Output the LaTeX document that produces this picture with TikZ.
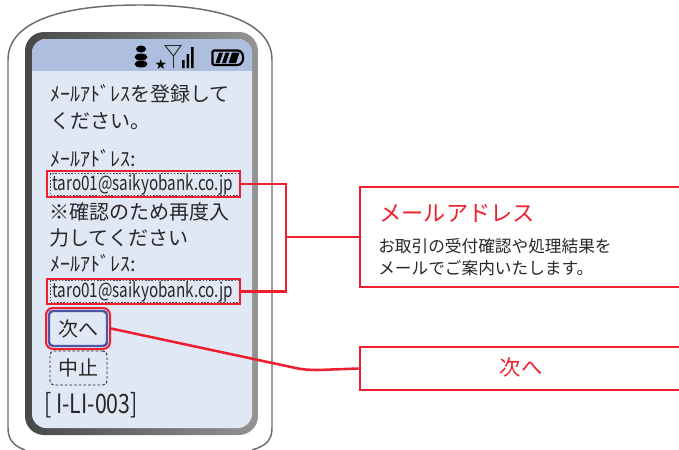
\documentclass[tikz,border=0pt]{standalone}
\usepackage{fontspec}
\setmainfont{Noto Sans CJK JP}
\newfontfamily\lat[FakeStretch=0.765]{Noto Sans CJK JP}
\newfontfamily\latb[FakeStretch=0.8]{Noto Sans CJK JP}
\usetikzlibrary{calc}
\definecolor{ink}{HTML}{2A2628}
\definecolor{redc}{HTML}{EE2030}
\definecolor{bodyc}{HTML}{E0E7F5}
\definecolor{headc}{HTML}{AEBEDF}
\definecolor{bluec}{HTML}{4F55A5}
\tikzset{
  x=0.75pt,y=-0.75pt,
  txt/.style={inner sep=0pt,anchor=west,text=ink,font=\fontsize{15}{18}\selectfont},
  field/.style={draw=ink!85,line width=0.7pt,dash pattern=on 1.2pt off 1.2pt,inner sep=0pt,text=ink},
  redframe/.style={draw=redc,line width=1.9pt,inner sep=0pt},
  redline/.style={draw=redc,line width=1.9pt},
  callout/.style={draw=redc,line width=2pt,fill=white,inner sep=0pt},
  rtxt/.style={inner sep=0pt,text=redc},
  icon/.style={fill=black,draw=none}
}
\begin{document}
\begin{tikzpicture}
\useasboundingbox (0,0) rectangle (679,450);
% phone body
\draw[draw=gray!85!black,line width=1.1pt,fill=white]
  (25,450) .. controls (14,446) and (8,440) .. (8,428) -- (8,60)
  .. controls (8,22) and (60,5) .. (140,5)
  .. controls (220,5) and (272,22) .. (272,60) -- (272,428)
  .. controls (272,440) and (266,446) .. (252,450);
% screen
\path[left color=black!72,right color=black!42,rounded corners=19*0.75pt]
  (25,32) rectangle (258,435);
\path[fill=bodyc,rounded corners=14*0.75pt] (32,39) rectangle (252,428);
\begin{scope}
  \clip[rounded corners=14*0.75pt] (32,39) rectangle (252,428);
  \fill[headc] (32,39) rectangle (252,71);
\end{scope}
% status icons
\fill[icon] (141,49) ellipse (5 and 3.5);
\fill[icon] (141,57) ellipse (6.5 and 3.5);
\fill[icon] (141,64) ellipse (6.5 and 3.5);
\node[rtxt,text=black,font=\fontsize{10.5}{11}\selectfont] (star) at (161,64) {\fontspec{DejaVu Sans}★};
\draw[ink,line width=0.7pt] (165,45.5) -- (181,45.5) -- (173.5,56) -- cycle (173.5,56) -- (173.5,68);
\fill[icon] (182,60) rectangle (184.5,68) (186.5,54) rectangle (189,68) (191,47) rectangle (193.5,68);
\draw[black,line width=1.6pt,rounded corners=1pt] (212.5,50.5) -- (239,50.5) .. controls (242,52) and (243,55) .. (243,58) .. controls (243,61) and (242,63) .. (239,65) -- (212.5,65) -- cycle;
\fill[icon] (215.5,63) -- (219,52.5) -- (223,52.5) -- (219.5,63) -- cycle
  (222,63) -- (225.5,52.5) -- (229.5,52.5) -- (226,63) -- cycle
  (228.5,63) -- (232,52.5) -- (239.5,52.5) -- (236,63) -- cycle;
% screen texts
\node[txt] (t1) at (50,94) {ﾒｰﾙｱﾄﾞﾚｽを登録して};
\node[txt] (t2) at (50,121) {ください。};
\node[txt] (t3) at (50,158) {ﾒｰﾙｱﾄﾞﾚｽ:};
\node[field,minimum width=189*0.75pt,minimum height=22*0.75pt] (field1) at (145,184.5) {};
\node[txt,font=\lat\fontsize{15}{18}\selectfont] (v1) at (52,185) {taro01@saikyobank.co.jp};
\node[redframe,minimum width=193*0.75pt,minimum height=26*0.75pt] (email1) at (143.5,184) {};
\node[txt] (t4) at (49,212) {※確認のため再度入};
\node[txt] (t5) at (49,238) {力してください};
\node[txt] (t6) at (50,263) {ﾒｰﾙｱﾄﾞﾚｽ:};
\node[field,minimum width=189*0.75pt,minimum height=22*0.75pt] (field2) at (145,291.5) {};
\node[txt,font=\lat\fontsize{15}{18}\selectfont] (v2) at (52,292) {taro01@saikyobank.co.jp};
\node[redframe,minimum width=193*0.75pt,minimum height=25*0.75pt] (email2) at (143.5,291.5) {};
% buttons
\node[draw=redc,line width=1.5pt,rounded corners=7*0.75pt,inner sep=0pt,minimum width=64*0.75pt,minimum height=41*0.75pt] (next) at (78,328.5) {};
\node[draw=bluec,line width=1.8pt,rounded corners=4*0.75pt,inner sep=0pt,minimum width=58*0.75pt,minimum height=35*0.75pt,text=ink,font=\fontsize{15}{18}\selectfont] (nextin) at (78,328.5) {次へ};
\node[draw=ink,line width=0.7pt,dash pattern=on 2pt off 1.5pt,rounded corners=4*0.75pt,inner sep=0pt,minimum width=57*0.75pt,minimum height=34*0.75pt,text=ink,font=\fontsize{15}{18}\selectfont] (stop) at (78.5,368) {中止};
\node[txt,font=\latb\fontsize{20}{22}\selectfont] (code) at (44,405) {[ I-LI-003]};
% callouts
\node[callout,minimum width=324*0.75pt,minimum height=100*0.75pt] (callA) at (522,237) {};
\node[callout,minimum width=324*0.75pt,minimum height=43*0.75pt] (callB) at (522,368.5) {};
\node[rtxt,anchor=west,font=\fontsize{16.7}{20}\selectfont] (ca1) at (379,213) {メールアドレス};
\node[txt,font=\fontsize{12.5}{15}\selectfont] (ca2) at (378,246) {お取引の受付確認や処理結果を};
\node[txt,font=\fontsize{12.5}{15}\selectfont] (ca3) at (378,268) {メールでご案内いたします。};
\node[rtxt,font=\fontsize{16}{20}\selectfont] (cb1) at (521,367) {次へ};
% connectors
\coordinate (jct) at (286,237);
\coordinate (bend) at (298,368.5);
\draw[redline] (email1.east) -| (jct) |- (email2.east);
\draw[redline] (jct) -- (callA.west);
\draw[redline] (next.east) -- (bend) .. controls (304,369.5) and (310,370) .. (318,370) -- (callB.west);
\end{tikzpicture}
\end{document}
